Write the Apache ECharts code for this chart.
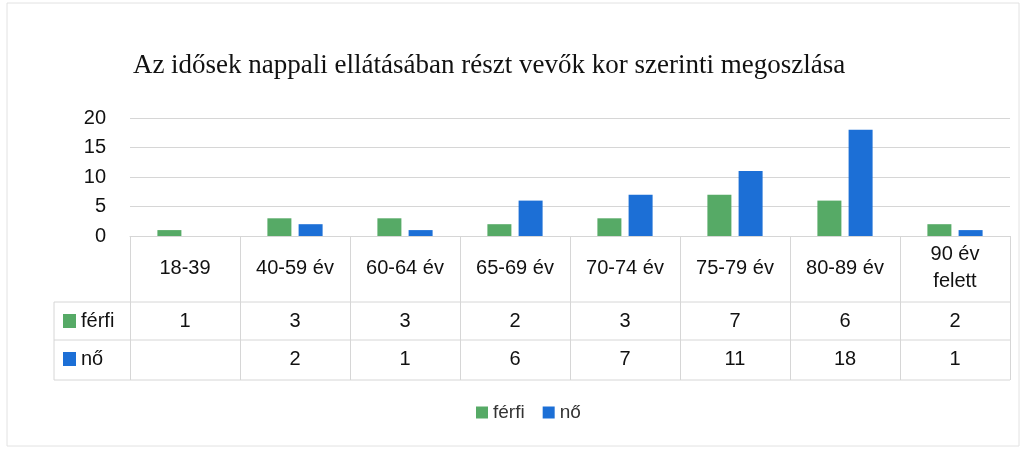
<!DOCTYPE html>
<html>
<head>
<meta charset="utf-8">
<script src="https://cdn.jsdelivr.net/npm/echarts@6/dist/echarts.min.js"></script>
<style>
  html, body { margin: 0; padding: 0; background: #fff; }
  #chart { width: 1027px; height: 453px; }
</style>
</head>
<body>
<div id="chart"></div>
<script>
// adatok
const categories = ["18-39", "40-59 év", "60-64 év", "65-69 év", "70-74 év", "75-79 év", "80-89 év", "90 év\nfelett"];
const ferfi = [1, 3, 3, 2, 3, 7, 6, 2];
const no = [null, 2, 1, 6, 7, 11, 18, 1];
const yTicks = [0, 5, 10, 15, 20];

const GREEN = "#56aa66";
const BLUE = "#1c6fd6";
const LINE = "#d6d6d6";
const FONT = "'Liberation Sans', sans-serif";

const chart = echarts.init(document.getElementById("chart"));

// táblázat sorai: plusz x tengelyek csak címkékkel
function rowAxis(values, margin) {
  return {
    type: "category",
    data: categories,
    position: "bottom",
    axisLine: { show: false },
    axisTick: { show: false },
    axisLabel: {
      margin: margin,
      verticalAlign: "middle",
      fontFamily: FONT,
      fontSize: 20,
      color: "#111",
      formatter: (v, i) => (values[i] == null ? "" : String(values[i])),
    },
  };
}

const option = {
  animation: false,
  title: {
    text: "Az idősek nappali ellátásában részt vevők kor szerinti megoszlása",
    left: 484,
    top: 47,
    textAlign: "center",
    textStyle: { fontFamily: "'Liberation Serif', serif", fontWeight: "normal", fontSize: 27, color: "#111" },
  },
  legend: {
    data: ["férfi", "nő"],
    bottom: 26,
    left: 471,
    icon: "rect",
    itemWidth: 12,
    itemHeight: 12,
    itemGap: 18,
    textStyle: { fontFamily: FONT, fontSize: 19, color: "#333" },
  },
  grid: { left: 130, right: 17, top: 118, bottom: 217 },
  xAxis: [
    {
      type: "category",
      data: categories,
      axisLine: { lineStyle: { color: LINE } },
      axisTick: { show: true, length: 144, lineStyle: { color: LINE } },
      axisLabel: {
        margin: 32,
        verticalAlign: "middle",
        fontFamily: FONT,
        fontSize: 20,
        lineHeight: 27,
        color: "#111",
        interval: 0,
      },
    },
    rowAxis(ferfi, 85),
    rowAxis(no, 123),
  ],
  yAxis: {
    type: "value",
    min: yTicks[0],
    max: yTicks[yTicks.length - 1],
    interval: 5,
    axisLabel: { fontFamily: FONT, fontSize: 20, color: "#111", margin: 24 },
    splitLine: { lineStyle: { color: LINE } },
  },
  series: [
    { name: "férfi", type: "bar", data: ferfi, barWidth: 24, barGap: "30%", itemStyle: { color: GREEN } },
    { name: "nő", type: "bar", data: no, barWidth: 24, barGap: "30%", itemStyle: { color: BLUE } },
  ],
  graphic: [
    // keret
    { type: "rect", shape: { x: 7, y: 3, width: 1012, height: 443 }, style: { fill: "none", stroke: "#e2e2e2", lineWidth: 1 } },
    // táblázat vízszintes vonalai
    { type: "line", shape: { x1: 54, y1: 302, x2: 1010, y2: 302 }, style: { stroke: LINE } },
    { type: "line", shape: { x1: 54, y1: 340, x2: 1010, y2: 340 }, style: { stroke: LINE } },
    { type: "line", shape: { x1: 54, y1: 380, x2: 1010, y2: 380 }, style: { stroke: LINE } },
    { type: "line", shape: { x1: 54, y1: 302, x2: 54, y2: 380 }, style: { stroke: LINE } },
    // sorfejlécek
    { type: "rect", shape: { x: 63, y: 314, width: 13, height: 14 }, style: { fill: GREEN } },
    { type: "text", x: 81, y: 321, style: { text: "férfi", font: "20px " + FONT, fill: "#111", verticalAlign: "middle" } },
    { type: "rect", shape: { x: 63, y: 352, width: 13, height: 14 }, style: { fill: BLUE } },
    { type: "text", x: 81, y: 359, style: { text: "nő", font: "20px " + FONT, fill: "#111", verticalAlign: "middle" } },
  ],
};

chart.setOption(option);
</script>
</body>
</html>
